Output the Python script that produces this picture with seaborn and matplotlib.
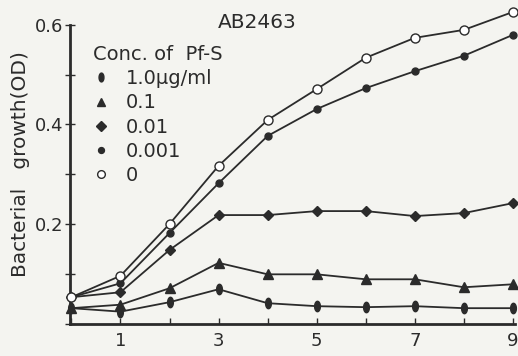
import numpy as np
import matplotlib
matplotlib.use('Agg')
import matplotlib.pyplot as plt
import seaborn as sns
from matplotlib.lines import Line2D

days = [0, 1, 2, 3, 4, 5, 6, 7, 8, 9]
od_1 = [0.031, 0.024, 0.043, 0.069, 0.041, 0.035, 0.033, 0.035, 0.031, 0.031]
od_01 = [0.031, 0.038, 0.071, 0.122, 0.099, 0.099, 0.089, 0.089, 0.073, 0.079]
od_001 = [0.053, 0.063, 0.148, 0.218, 0.218, 0.226, 0.226, 0.216, 0.222, 0.242]
od_0001 = [0.053, 0.081, 0.182, 0.282, 0.377, 0.431, 0.473, 0.507, 0.538, 0.580]
od_0 = [0.053, 0.096, 0.200, 0.317, 0.409, 0.471, 0.534, 0.574, 0.590, 0.626]
labels = ['1.0\u00b5g/ml', '0.1', '0.01', '0.001', '0']

ink = '#2b2b2b'
paper = '#f4f4f0'

# vertical ellipse marker for the 1.0 ug/ml series
t = np.linspace(0, 2 * np.pi, 40)
ellipse = list(zip(0.55 * np.cos(t), np.sin(t)))

series = [
    (od_1, ellipse, ink, 7.5),
    (od_01, '^', ink, 6.5),
    (od_001, 'D', ink, 5.5),
    (od_0001, 'o', ink, 5),
    (od_0, 'o', 'white', 6.5),
]

sns.set_style('ticks')
plt.rcParams['font.family'] = ['DejaVu Sans']

fig = plt.figure(figsize=(5.18, 3.56), dpi=100, facecolor=paper)
ax = fig.add_axes([0.135, 0.091, 0.86, 0.895])
ax.set_facecolor(paper)

for vals, mk, fc, ms in series:
    sns.lineplot(x=days, y=vals, ax=ax, color=ink, lw=1.3, marker=mk,
                 markersize=ms, markerfacecolor=fc, markeredgecolor=ink,
                 markeredgewidth=1.0, clip_on=False, zorder=3)

ax.set_xlim(-0.03, 9.05)
ax.set_ylim(0, 0.64)
ax.set_xticks(days)
ax.set_xticklabels([str(d) if d % 2 == 1 else '' for d in days])
ax.set_yticks([0, 0.1, 0.2, 0.3, 0.4, 0.5, 0.6])
ax.set_yticklabels(['', '', '0.2', '', '0.4', '', '0.6'])
ax.tick_params(axis='x', direction='in', length=4, width=1, colors=ink,
               labelsize=13, pad=6)
ax.tick_params(axis='y', direction='inout', length=7, width=1, colors=ink,
               labelsize=13, pad=1)
sns.despine(ax=ax, top=True, right=True)
ax.spines['left'].set_bounds(0, 0.6)
ax.spines['left'].set_linewidth(2)
ax.spines['bottom'].set_linewidth(2)
ax.spines['left'].set_color(ink)
ax.spines['bottom'].set_color(ink)
ax.set_xlabel('')
ax.set_ylabel('Bacterial   growth(OD)', fontsize=14.5, color=ink, labelpad=4)

handles = []
for (vals, mk, fc, ms), lab in zip(series, labels):
    handles.append(Line2D([], [], linestyle='none', marker=mk,
                          markersize=ms * 0.85, markerfacecolor=fc,
                          markeredgecolor=ink, label=lab))
leg = ax.legend(handles=handles, title='Conc. of  Pf-S', loc='upper left',
                bbox_to_anchor=(0.03, 0.905), frameon=False, fontsize=14,
                title_fontsize=14, handlelength=0.8, handletextpad=0.9,
                labelspacing=0.27, borderpad=0)
leg._legend_box.align = 'left'
for txt in leg.get_texts():
    txt.set_color(ink)
leg.get_title().set_color(ink)

fig.text(218 / 518, 1 - 23 / 356, 'AB2463', fontsize=14.5, color=ink,
         va='center', ha='left')

fig.savefig('out.png', dpi=100, facecolor=paper)
